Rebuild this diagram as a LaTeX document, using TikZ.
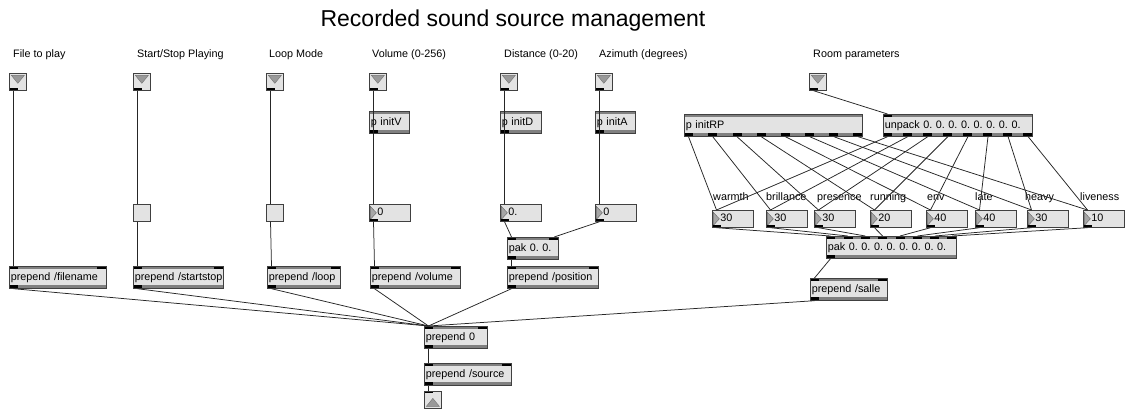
\documentclass[tikz,border=0pt]{standalone}
\usepackage{fontspec}
\setmainfont{Liberation Sans}
\frenchspacing
\usetikzlibrary{calc}
\newcommand\mxport[4]{($([xshift=4.5pt]#1.#4 west)!{(#2-1)/max(#3-1,1)}!([xshift=-4.5pt]#1.#4 east)$)}
\tikzset{
  x=1pt, y=-1pt,
  cord/.style={draw=black!85, line width=0.75pt},
  lbl/.style={anchor=base west, inner sep=0pt, font=\fontsize{10.8}{12}\selectfont},
  mxobj/.style n args={3}{rectangle, anchor=north west, draw=black!75, fill=black!11,
    line width=0.7pt, minimum height=22pt, text width=#1pt-3pt, inner xsep=1.5pt,
    inner ysep=0pt, align=left, font=\fontsize{10.8}{12}\selectfont, text height=8pt, text depth=2pt,
    execute at begin node={\hbox\bgroup}, execute at end node={\egroup},
    path picture={
      \fill[black!50] (path picture bounding box.north west) rectangle ([yshift=-3pt]path picture bounding box.north east);
      \fill[black!50] (path picture bounding box.south west) rectangle ([yshift=3pt]path picture bounding box.south east);
      \ifnum#2>0 \foreach \i in {1,...,#2}{\fill[black] ($(path picture bounding box.north west)!{(\i-1)/max(#2-1,1)}!([xshift=-9pt]path picture bounding box.north east)$) rectangle ++(9pt,-3pt);}\fi
      \ifnum#3>0 \foreach \i in {1,...,#3}{\fill[black] ($(path picture bounding box.south west)!{(\i-1)/max(#3-1,1)}!([xshift=-9pt]path picture bounding box.south east)$) rectangle ++(9pt,3pt);}\fi
    }},
  mxnum/.style={rectangle, anchor=north west, draw=black!75, fill=black!11,
    line width=0.7pt, minimum height=17pt, text width=37pt, inner xsep=2pt,
    inner ysep=0pt, align=left, font=\fontsize{10.8}{12}\selectfont, text height=8pt, text depth=2pt,
    execute at begin node=\hspace*{6pt},
    path picture={
      \filldraw[fill=black!35, draw=black!60, line width=0.4pt]
        ([shift={(1pt,-2pt)}]path picture bounding box.north west) --
        ([shift={(7pt,0pt)}]path picture bounding box.west) --
        ([shift={(1pt,2pt)}]path picture bounding box.south west) -- cycle;
      \fill[black] (path picture bounding box.south west) rectangle ++(9pt,2pt);
    }},
  mxtog/.style={rectangle, anchor=north west, draw=black!75, fill=black!11,
    line width=0.7pt, minimum size=17pt, inner sep=0pt},
  mxin/.style={rectangle, anchor=north west, draw=black!75, fill=black!11,
    line width=0.7pt, minimum size=17pt, inner sep=0pt,
    path picture={
      \filldraw[fill=black!40, draw=black!55, line width=0.4pt]
        ([shift={(2pt,-2pt)}]path picture bounding box.north west) --
        ([shift={(-2pt,-2pt)}]path picture bounding box.north east) --
        ([shift={(0pt,-10pt)}]path picture bounding box.north) -- cycle;
      \fill[black] (path picture bounding box.south west) rectangle ++(9pt,2pt);
    }},
  mxout/.style={rectangle, anchor=north west, draw=black!75, fill=black!11,
    line width=0.7pt, minimum size=17pt, inner sep=0pt,
    path picture={
      \filldraw[fill=black!40, draw=black!55, line width=0.4pt]
        ([shift={(2pt,2pt)}]path picture bounding box.south west) --
        ([shift={(-2pt,2pt)}]path picture bounding box.south east) --
        ([shift={(0pt,10pt)}]path picture bounding box.south) -- cycle;
      \fill[black] (path picture bounding box.north west) rectangle ++(9pt,-2pt);
    }},
}
\begin{document}
\begin{tikzpicture}
\fill[white] (0,0) rectangle (1125,412);
\useasboundingbox (0,0) rectangle (1125,412);

\node[font=\fontsize{23}{27}\selectfont, anchor=base, inner sep=0pt] (title) at (513,27) {Recorded sound source management};

% top labels
\node[lbl] (l1) at (13,58) {File to play};
\node[lbl] (l2) at (137,58) {Start/Stop Playing};
\node[lbl] (l3) at (269,58) {Loop Mode};
\node[lbl] (l4) at (372,58) {Volume (0-256)};
\node[lbl] (l5) at (504,58) {Distance (0-20)};
\node[lbl] (l6) at (599,58) {Azimuth (degrees)};
\node[lbl] (l7) at (813,58) {Room parameters};

% inlets
\node[mxin] (in1) at (9,73) {};
\node[mxin] (in2) at (133,73) {};
\node[mxin] (in3) at (266,73) {};
\node[mxin] (in4) at (369,73) {};
\node[mxin] (in5) at (500,73) {};
\node[mxin] (in6) at (595,73) {};
\node[mxin] (in7) at (809,73) {};

% subpatches
\node[mxobj={40}{0}{1}] (pv) at (369,111) {p initV};
\node[mxobj={41}{0}{1}] (pd) at (500,111) {p initD};
\node[mxobj={40}{0}{1}] (pa) at (595,111) {p initA};

% toggles and number boxes
\node[mxtog] (t2) at (133,204) {};
\node[mxtog] (t3) at (266,204) {};
\node[mxnum] (n4) at (369,204) {0};
\node[mxnum] (n5) at (500,204) {0.};
\node[mxnum] (n6) at (595,204) {0};

\node[mxobj={51}{2}{1}] (pk2) at (507,237) {pak 0. 0.};

% prepends
\node[mxobj={97}{2}{1}] (pf) at (9,266) {prepend /filename};
\node[mxobj={90}{2}{1}] (ps) at (133,266) {prepend /startstop};
\node[mxobj={73}{2}{1}] (pl) at (267,266) {prepend /loop};
\node[mxobj={90}{2}{1}] (pvol) at (370,266) {prepend /volume};
\node[mxobj={91}{2}{1}] (ppos) at (507,266) {prepend /position};
\node[mxobj={63}{2}{1}] (p0) at (424,326) {prepend 0};
\node[mxobj={87}{2}{1}] (src) at (424,363) {prepend /source};
\node[mxout] (out) at (424,391) {};

% room parameters
\node[mxobj={178}{0}{8}] (rp) at (684,114) {p initRP};
\node[mxobj={149}{1}{8}] (up) at (883,114) {unpack 0. 0. 0. 0. 0. 0. 0. 0.};
\foreach \x/\t [count=\i] in {713/warmth,766/brillance,817/presence,870/running,927/env,975/late,1025/heavy,1080/liveness}
  \node[lbl] (rl\i) at (\x,200) {\t};
\foreach \x/\v [count=\i] in {712/30,766/30,814/30,870/20,926/40,975/40,1027/30,1083/10}
  \node[mxnum] (r\i) at (\x,210) {\v};
\node[mxobj={130}{8}{1}] (pk) at (826,236) {pak 0. 0. 0. 0. 0. 0. 0. 0.};
\node[mxobj={77}{2}{1}] (sal) at (810,278) {prepend /salle};

% cords
\draw[cord] \mxport{in1}{1}{1}{south} -- \mxport{pf}{1}{2}{north};
\draw[cord] \mxport{in2}{1}{1}{south} -- \mxport{t2}{1}{1}{north};
\draw[cord] \mxport{t2}{1}{1}{south} -- \mxport{ps}{1}{2}{north};
\draw[cord] \mxport{in3}{1}{1}{south} -- \mxport{t3}{1}{1}{north};
\draw[cord] \mxport{t3}{1}{1}{south} -- \mxport{pl}{1}{2}{north};
\draw[cord] \mxport{in4}{1}{1}{south} -- \mxport{n4}{1}{1}{north};
\draw[cord] \mxport{pv}{1}{1}{south} -- \mxport{n4}{1}{1}{north};
\draw[cord] \mxport{n4}{1}{1}{south} -- \mxport{pvol}{1}{2}{north};
\draw[cord] \mxport{in5}{1}{1}{south} -- \mxport{n5}{1}{1}{north};
\draw[cord] \mxport{pd}{1}{1}{south} -- \mxport{n5}{1}{1}{north};
\draw[cord] \mxport{in6}{1}{1}{south} -- \mxport{n6}{1}{1}{north};
\draw[cord] \mxport{pa}{1}{1}{south} -- \mxport{n6}{1}{1}{north};
\draw[cord] \mxport{n5}{1}{1}{south} -- \mxport{pk2}{1}{2}{north};
\draw[cord] \mxport{n6}{1}{1}{south} -- \mxport{pk2}{2}{2}{north};
\draw[cord] \mxport{pk2}{1}{1}{south} -- \mxport{ppos}{1}{2}{north};
\foreach \s in {pf,ps,pl,pvol,ppos,sal}
  \draw[cord] \mxport{\s}{1}{1}{south} -- \mxport{p0}{1}{2}{north};
\draw[cord] \mxport{p0}{1}{1}{south} -- \mxport{src}{1}{2}{north};
\draw[cord] \mxport{src}{1}{1}{south} -- \mxport{out}{1}{1}{north};
\draw[cord] \mxport{in7}{1}{1}{south} -- \mxport{up}{1}{1}{north};
\foreach \i in {1,...,8}{
  \draw[cord] \mxport{rp}{\i}{8}{south} -- \mxport{r\i}{1}{1}{north};
  \draw[cord] \mxport{up}{\i}{8}{south} -- \mxport{r\i}{1}{1}{north};
  \draw[cord] \mxport{r\i}{1}{1}{south} -- \mxport{pk}{\i}{8}{north};
}
\draw[cord] \mxport{pk}{1}{1}{south} -- \mxport{sal}{1}{2}{north};
\end{tikzpicture}
\end{document}
